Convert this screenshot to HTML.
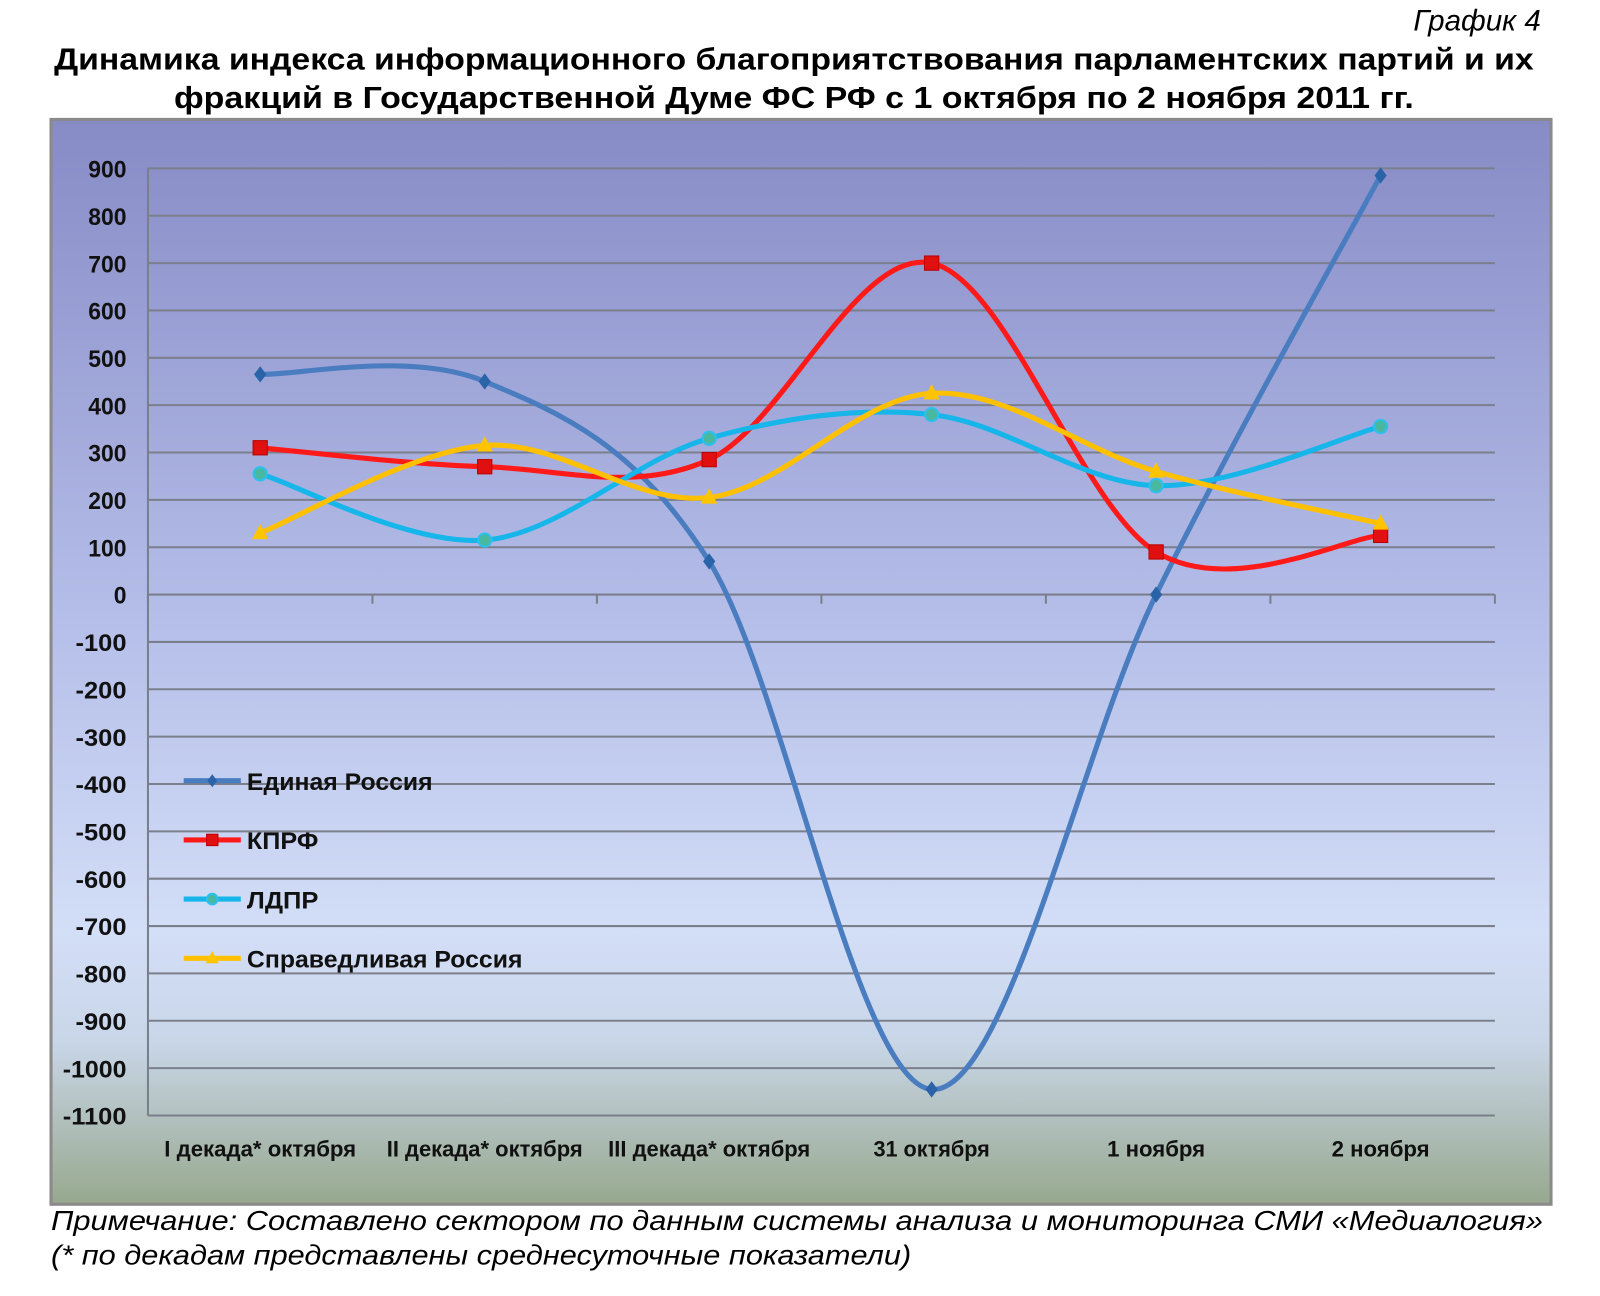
<!DOCTYPE html>
<html><head><meta charset="utf-8"><style>
html,body{margin:0;padding:0;background:#fff;}
body{width:1600px;height:1291px;overflow:hidden;font-family:"Liberation Sans",sans-serif;}
</style></head><body>
<svg id="s" width="1600" height="1291" viewBox="0 0 1568 1265" preserveAspectRatio="none" xmlns="http://www.w3.org/2000/svg" font-family="Liberation Sans, sans-serif">
<defs>
<linearGradient id="bg" x1="0" y1="0" x2="0" y2="1">
<stop offset="0" stop-color="#878bc6"/>
<stop offset="0.45" stop-color="#b4bde8"/>
<stop offset="0.75" stop-color="#d3def7"/>
<stop offset="0.85" stop-color="#c9d6e8"/>
<stop offset="1" stop-color="#97a88e"/>
</linearGradient>
</defs>
<text x="1510" y="30" font-size="29" font-style="italic" text-anchor="end">График 4</text>
<text x="778" y="68" font-size="30" font-weight="bold" text-anchor="middle" textLength="1450" lengthAdjust="spacingAndGlyphs">Динамика индекса информационного благоприятствования парламентских партий и их</text>
<text x="778" y="106" font-size="30" font-weight="bold" text-anchor="middle" textLength="1215" lengthAdjust="spacingAndGlyphs">фракций в Государственной Думе ФС РФ с 1 октября по 2 ноября 2011 гг.</text>
<rect x="50" y="117" width="1470" height="1063" fill="url(#bg)" stroke="#8a8a8a" stroke-width="3"/>
<g id="grid"></g>
<g id="series"></g>
<g id="legend"></g>
<text x="50" y="1205" font-size="27" font-style="italic" textLength="1462" lengthAdjust="spacingAndGlyphs">Примечание: Составлено сектором по данным системы анализа и мониторинга СМИ «Медиалогия»</text>
<text x="50" y="1239" font-size="27" font-style="italic" textLength="843" lengthAdjust="spacingAndGlyphs">(* по декадам представлены среднесуточные показатели)</text>
</svg>
<script>
var NS="http://www.w3.org/2000/svg";
function el(p,t,a,txt){var e=document.createElementNS(NS,t);for(var k in a)e.setAttribute(k,a[k]);if(txt!=null)e.textContent=txt;document.getElementById(p).appendChild(e);return e;}
var X0=145,X1=1465,yT=165,step=46.4;
function Y(v){return yT+(900-v)/100*step;}
var xs=[255,475,695,913,1133,1353];
for(var v=900;v>=-1100;v-=100){
 var y=Y(v);
 el("grid","line",{x1:X0,x2:X1,y1:y,y2:y,stroke:"#7b7f8c","stroke-width":2});
 el("grid","text",{x:124,y:y+9,"font-size":24,"font-weight":"bold","text-anchor":"end",fill:"#111",textLength:(String(v).length*12.5),lengthAdjust:"spacingAndGlyphs"},String(v));
}
el("grid","line",{x1:X0,x2:X0,y1:yT,y2:Y(-1100),stroke:"#7b7f8c","stroke-width":2});
for(var i=0;i<=6;i++){var x=X0+i*220;el("grid","line",{x1:x,x2:x,y1:Y(0),y2:Y(0)+9,stroke:"#7b7f8c","stroke-width":2});}
var cats=["I декада* октября","II декада* октября","III декада* октября","31 октября","1 ноября","2 ноября"];
var cw=[188,192,198,114,96,96];
cats.forEach(function(c,i){el("grid","text",{x:xs[i],y:1133,"font-size":22,"font-weight":"bold","text-anchor":"middle",fill:"#111",textLength:cw[i],lengthAdjust:"spacingAndGlyphs"},c);});
var S=[
 {n:"Единая Россия",c:"#4a7cc0",m:"#2a63a8",d:[465,450,70,-1045,0,885],k:"dia"},
 {n:"КПРФ",c:"#ff1a1a",m:"#e01010",d:[310,270,285,700,90,125],k:"sq"},
 {n:"ЛДПР",c:"#16b5ea",m:"#48b9a0",d:[255,115,330,380,230,355],k:"ci"},
 {n:"Справедливая Россия",c:"#ffc000",m:"#ffc400",d:[130,315,205,425,260,150],k:"tri"}
];
function path(p){var d="M"+p[0][0]+","+p[0][1];for(var i=0;i<p.length-1;i++){var p0=p[i-1]||p[i],p1=p[i],p2=p[i+1],p3=p[i+2]||p2,t=6;
 d+=" C"+(p1[0]+(p2[0]-p0[0])/t)+","+(p1[1]+(p2[1]-p0[1])/t)+" "+(p2[0]-(p3[0]-p1[0])/t)+","+(p2[1]-(p3[1]-p1[1])/t)+" "+p2[0]+","+p2[1];}return d;}
function mark(g,k,x,y,col,sz){sz=sz||1;
 if(k=="dia")el(g,"path",{d:"M"+x+","+(y-8*sz)+"L"+(x+6*sz)+","+y+"L"+x+","+(y+8*sz)+"L"+(x-6*sz)+","+y+"Z",fill:col});
 if(k=="sq")el(g,"rect",{x:x-7*sz,y:y-7*sz,width:14*sz,height:14*sz,fill:col,stroke:"#b00","stroke-width":1});
 if(k=="ci")el(g,"circle",{cx:x,cy:y,r:6.5*sz,fill:col,stroke:"#2cc0ee","stroke-width":2});
 if(k=="tri")el(g,"path",{d:"M"+x+","+(y-9*sz)+"L"+(x+8*sz)+","+(y+6*sz)+"L"+(x-8*sz)+","+(y+6*sz)+"Z",fill:col});
}
S.forEach(function(s,j){
 var p=s.d.map(function(v,i){return [xs[i],Y(v)];});
 el("series","path",{d:path(p),fill:"none",stroke:s.c,"stroke-width":5,"stroke-linecap":"round"});
 p.forEach(function(q){mark("series",s.k,q[0],q[1],s.m);});
 var ly=765+j*58;
 el("legend","line",{x1:180,x2:236,y1:ly,y2:ly,stroke:s.c,"stroke-width":5});
 mark("legend",s.k,208,ly,s.m,0.8);
 el("legend","text",{x:242,y:ly+9,"font-size":24,"font-weight":"bold",fill:"#111",textLength:[182,70,70,270][j],lengthAdjust:"spacingAndGlyphs"},s.n);
});
</script>
</body></html>
